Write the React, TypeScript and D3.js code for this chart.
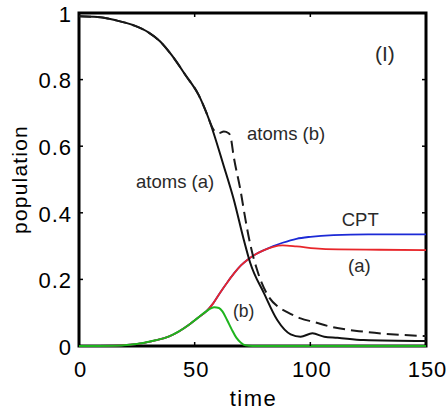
import { useEffect, useRef } from "react";
import * as d3 from "d3";

// plot frame, in page pixels
const W = 446;
const H = 415;
const frame = { left: 79, right: 426, top: 13, bottom: 346 };

// time points and values
const atomsA: [number, number][] = [
  [0, 0.99], [8, 0.988], [16, 0.978], [24, 0.962], [30, 0.942], [35, 0.915],
  [40, 0.874], [46, 0.814], [51.7, 0.754], [56, 0.684], [62.6, 0.54], [66.9, 0.44],
  [71.2, 0.32], [74, 0.25], [80, 0.158], [85.7, 0.078], [91.5, 0.035], [95.8, 0.028],
  [100.9, 0.038], [106, 0.028], [111.7, 0.025], [123, 0.018], [150, 0.015],
];

const atomsB: [number, number][] = [
  [0, 0.99], [8, 0.988], [16, 0.978], [24, 0.962], [30, 0.942], [35, 0.915],
  [40, 0.874], [46, 0.814], [51.7, 0.754], [56, 0.684], [56.8, 0.669], [58.2, 0.649],
  [60.4, 0.639], [62.6, 0.644], [64.7, 0.639], [65.5, 0.629], [66.9, 0.568],
  [69.8, 0.468], [72, 0.378], [74.1, 0.303], [77, 0.228], [82, 0.148], [86, 0.118],
  [90, 0.102], [95.8, 0.083], [101.6, 0.072], [108.8, 0.058], [123, 0.043],
  [140.5, 0.033], [150, 0.03],
];

const cptA: [number, number][] = [
  [0, 0], [15, 0.001], [22, 0.004], [27, 0.008], [33, 0.017], [38.7, 0.028],
  [43, 0.043], [47.4, 0.063], [50, 0.077], [52, 0.088], [55, 0.104], [58, 0.128],
  [61, 0.16], [64, 0.19], [67, 0.218], [70, 0.242], [73, 0.26], [76, 0.274],
  [80, 0.288], [84, 0.298], [88, 0.302], [94, 0.299], [102, 0.293], [112, 0.29],
  [130, 0.289], [150, 0.288],
];

const cptTotal: [number, number][] = [
  [0, 0], [15, 0.001], [22, 0.004], [27, 0.008], [33, 0.017], [38.7, 0.028],
  [43, 0.043], [47.4, 0.063], [50, 0.077], [52, 0.088], [55, 0.104], [58, 0.128],
  [61, 0.16], [64, 0.19], [67, 0.218], [70, 0.242], [73, 0.26], [76, 0.274],
  [80, 0.288], [84, 0.3], [88, 0.31], [94, 0.322], [100, 0.328], [110, 0.333],
  [125, 0.335], [150, 0.335],
];

const cptB: [number, number][] = [
  [0, 0], [15, 0.001], [22, 0.004], [27, 0.008], [33, 0.017], [38.7, 0.028],
  [43, 0.043], [47.4, 0.063], [50, 0.077], [52, 0.088], [55, 0.104], [57, 0.113],
  [58.5, 0.116], [60.5, 0.114], [62, 0.104], [64, 0.078], [66, 0.05], [68, 0.025],
  [70, 0.01], [72, 0.002], [75, 0], [150, 0],
];

const xTicks = [0, 50, 100, 150];
const yTicks = [0, 0.2, 0.4, 0.6, 0.8, 1];
const yTickLabels = ["0", "0.2", "0.4", "0.6", "0.8", "1"];

const font = "'Liberation Sans', Arial, sans-serif";

const App = () => {
  const ref = useRef<SVGSVGElement>(null);

  useEffect(() => {
    const svg = d3.select(ref.current);
    svg.selectAll("*").remove();

    const x = d3.scaleLinear().domain([0, 150]).range([frame.left, frame.right]);
    const y = d3.scaleLinear().domain([0, 1]).range([frame.bottom, frame.top]);

    const line = d3.line<[number, number]>()
      .x(d => x(d[0]))
      .y(d => y(d[1]))
      .curve(d3.curveMonotoneX);

    // curves: blue under red under green, black on top
    const curves = [
      { data: cptTotal, color: "#1c2ad6", width: 1.8, dash: null },
      { data: cptA, color: "#e8262a", width: 1.8, dash: null },
      { data: cptB, color: "#1eb41e", width: 2, dash: null },
      { data: atomsA, color: "#111", width: 2, dash: null },
      { data: atomsB, color: "#1a1a1a", width: 2, dash: "12,6" },
    ];

    // frame
    svg.append("rect")
      .attr("x", frame.left)
      .attr("y", frame.top)
      .attr("width", frame.right - frame.left)
      .attr("height", frame.bottom - frame.top)
      .attr("fill", "none")
      .attr("stroke", "#000")
      .attr("stroke-width", 3);

    curves.forEach(c => {
      svg.append("path")
        .attr("d", line(c.data))
        .attr("fill", "none")
        .attr("stroke", c.color)
        .attr("stroke-width", c.width)
        .attr("stroke-dasharray", c.dash);
    });

    // inward ticks
    const tk = 4;
    xTicks.slice(1, -1).forEach(t => {
      svg.append("line").attr("x1", x(t)).attr("x2", x(t))
        .attr("y1", frame.bottom).attr("y2", frame.bottom - tk)
        .attr("stroke", "#000").attr("stroke-width", 1.5);
      svg.append("line").attr("x1", x(t)).attr("x2", x(t))
        .attr("y1", frame.top).attr("y2", frame.top + tk)
        .attr("stroke", "#000").attr("stroke-width", 1.5);
    });
    yTicks.slice(1, -1).forEach(t => {
      svg.append("line").attr("x1", frame.left).attr("x2", frame.left + tk)
        .attr("y1", y(t)).attr("y2", y(t))
        .attr("stroke", "#000").attr("stroke-width", 1.5);
      svg.append("line").attr("x1", frame.right).attr("x2", frame.right - tk)
        .attr("y1", y(t)).attr("y2", y(t))
        .attr("stroke", "#000").attr("stroke-width", 1.5);
    });

    // tick labels
    svg.selectAll(".xlab")
      .data(xTicks)
      .join("text")
      .attr("x", d => x(d) + 1.5)
      .attr("y", 377)
      .attr("text-anchor", "middle")
      .attr("font-family", font)
      .attr("font-size", 22)
      .attr("letter-spacing", 1)
      .text(d => String(d));

    svg.selectAll(".ylab")
      .data(yTicks)
      .join("text")
      .attr("x", 72)
      .attr("y", d => y(d) + 8.8)
      .attr("text-anchor", "end")
      .attr("font-family", font)
      .attr("font-size", 22)
      .attr("letter-spacing", 1)
      .text((d, i) => yTickLabels[i]);

    // axis titles
    svg.append("text")
      .attr("x", (frame.left + frame.right) / 2 + 1)
      .attr("y", 406)
      .attr("text-anchor", "middle")
      .attr("font-family", font)
      .attr("font-size", 22)
      .attr("letter-spacing", 1.5)
      .text("time");

    svg.append("text")
      .attr("transform", `translate(27, ${(frame.top + frame.bottom) / 2}) rotate(-90)`)
      .attr("text-anchor", "middle")
      .attr("font-family", font)
      .attr("font-size", 21)
      .attr("letter-spacing", 1.2)
      .text("population");

    // annotations
    const notes = [
      { text: "(I)", x: 375, y: 60.5, size: 21 },
      { text: "atoms (b)", x: 247, y: 139.5, size: 18.5 },
      { text: "atoms (a)", x: 136, y: 187.5, size: 18.5 },
      { text: "CPT", x: 341.7, y: 226, size: 18.5 },
      { text: "(a)", x: 348, y: 271.8, size: 18.5 },
      { text: "(b)", x: 233, y: 317, size: 17.5 },
    ];
    notes.forEach(n => {
      svg.append("text")
        .attr("x", n.x)
        .attr("y", n.y)
        .attr("font-family", font)
        .attr("font-size", n.size)
        .attr("fill", "#2a2a2a")
        .text(n.text);
    });
  }, []);

  return (
    <svg
      ref={ref}
      width={W}
      height={H}
      style={{ position: "absolute", left: 0, top: 0, background: "#fff" }}
    />
  );
};

export default App;
